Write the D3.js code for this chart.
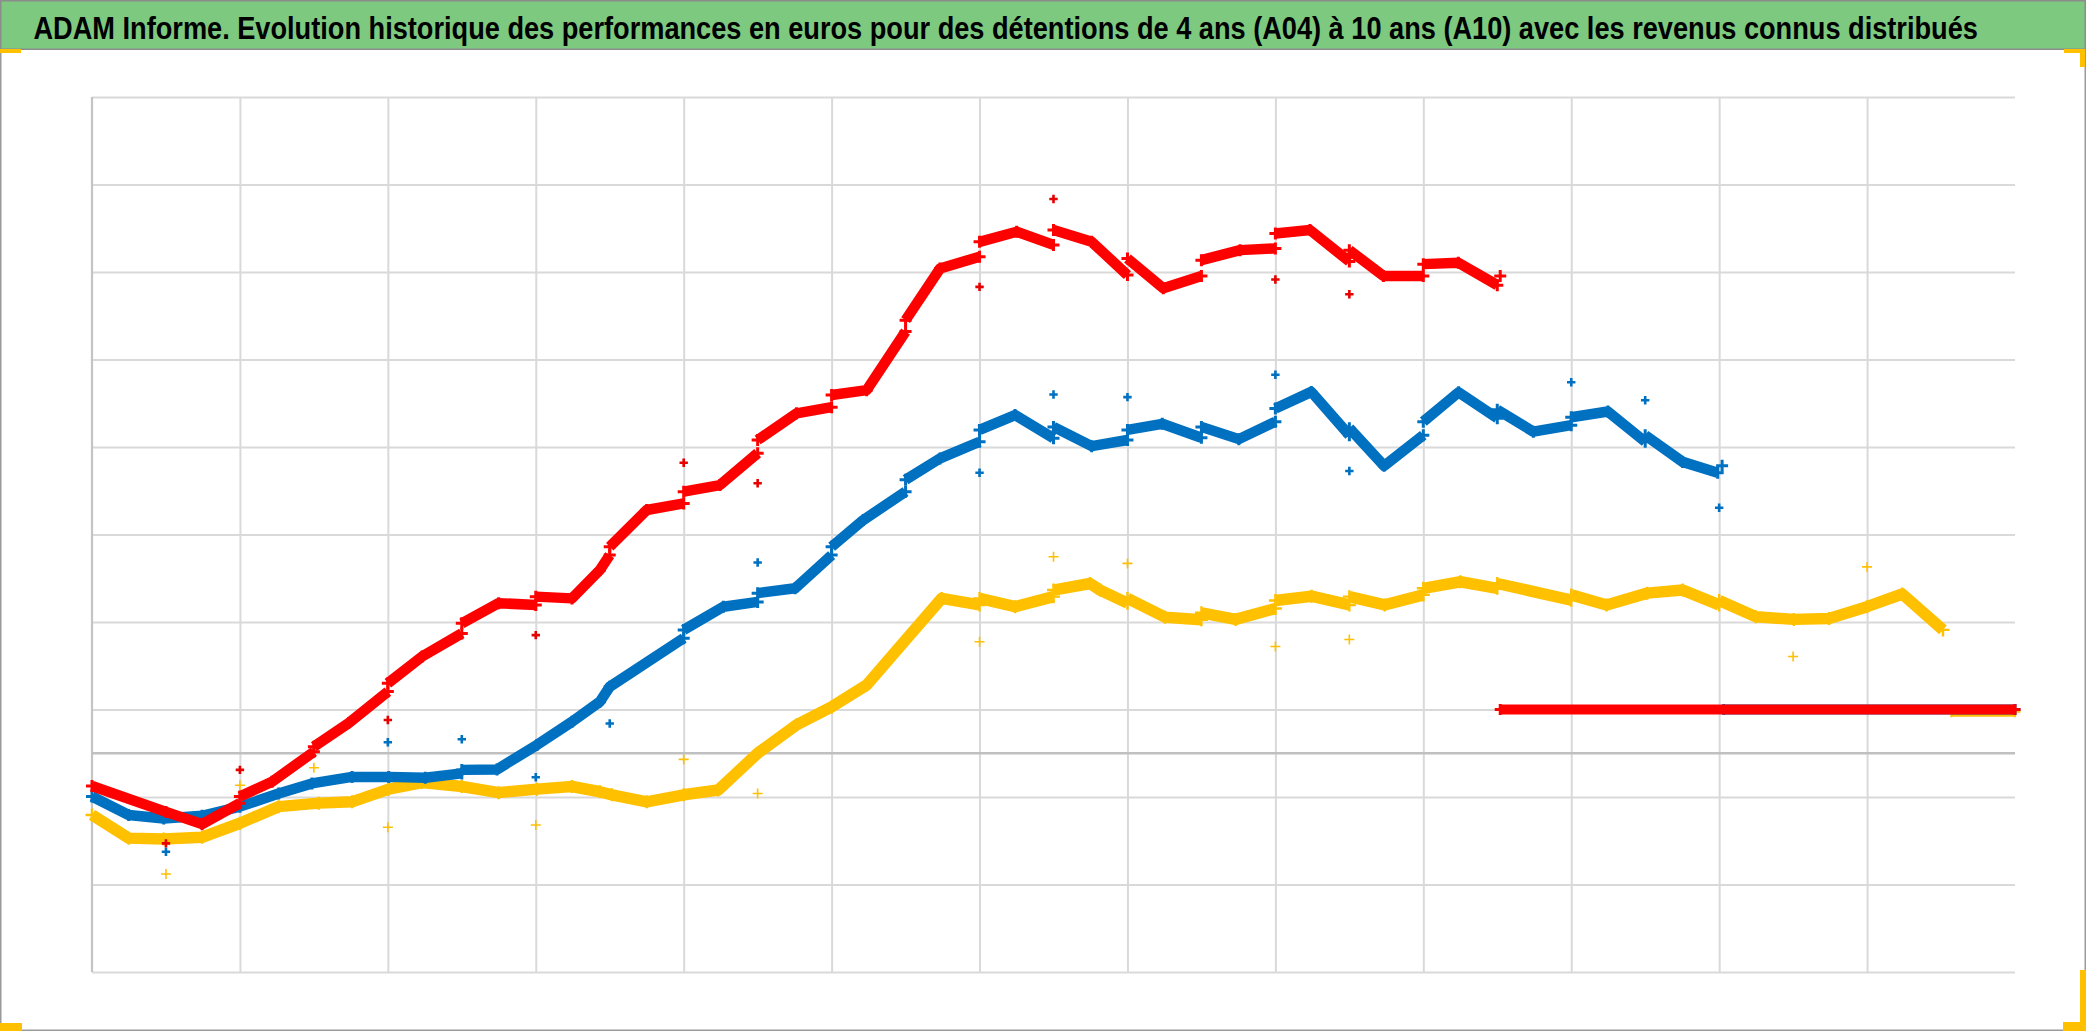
<!DOCTYPE html>
<html><head><meta charset="utf-8">
<script src="https://cdn.jsdelivr.net/npm/d3@7"></script>
<style>html,body{margin:0;padding:0;background:#fff;overflow:hidden}</style>
</head><body><svg id="c" width="2086" height="1031"></svg>
<script>
// ---------- data ----------
const titleText = "ADAM Informe. Evolution historique des performances en euros pour des détentions de 4 ans (A04) à 10 ans (A10) avec les revenus connus distribués";
const xDomain = [0, 13];            // années depuis le début de la période
const yDomain = [-5000, 15000];     // euros
const xGridYears = [0,1,2,3,4,5,6,7,8,9,10,11,12];
const yGridValues = [-5000,-3000,-1000,1000,3000,5000,7000,9000,11000,13000,15000];

// performance curves [year, euros]; null = break (jump at revenue date)
const courbeA10 = [
  [0,-750],[0.5,-1340],[0.744,-1620],[1.0,-1140], null,
  [1.0,-990],[1.217,-650],[1.5,35], null,
  [1.5,150],[1.735,690],[2.0,1410], null,
  [2.0,1600],[2.231,2210],[2.5,2740], null,
  [2.5,2970],[2.749,3430],[3.0,3390], null,
  [3.0,3580],[3.245,3540],[3.434,4190],[3.5,4530], null,
  [3.5,4720],[3.75,5560],[4.0,5710], null,
  [4.0,5980],[4.245,6130],[4.5,6860], null,
  [4.5,7160],[4.763,7770],[5.0,7910], null,
  [5.0,8190],[5.237,8300],[5.5,9640], null,
  [5.5,9900],[5.733,11080],[6.0,11350], null,
  [6.0,11690],[6.251,11920],[6.5,11620], null,
  [6.5,11960],[6.758,11690],[7.0,10930], null,
  [7.0,11310],[7.242,10630],[7.5,10910], null,
  [7.5,11270],[7.761,11500],[8.0,11540], null,
  [8.0,11880],[8.234,11960],[8.5,11240], null,
  [8.5,11500],[8.73,10910],[9.0,10910], null,
  [9.0,11180],[9.237,11210],[9.5,10700], null,
  [9.52,10910]
];
const courbeA07 = [
  [0,-990],[0.248,-1410],[0.485,-1490],[0.744,-1430],[1.0,-1220],[1.262,-920],[1.487,-690],[1.758,-540],[2.006,-540],[2.253,-560],[2.5,-460], null,
  [2.5,-380],[2.738,-370],[3.008,190],[3.245,720],[3.434,1180],[3.5,1520],[4.0,2630], null,
  [4.0,2820],[4.268,3350],[4.5,3460], null,
  [4.5,3660],[4.753,3770],[5.0,4530], null,
  [5.0,4720],[5.214,5330],[5.5,5980], null,
  [5.5,6250],[5.733,6740],[6.0,7120], null,
  [6.0,7390],[6.24,7730],[6.5,7200], null,
  [6.5,7460],[6.758,7020],[7.0,7160], null,
  [7.0,7390],[7.235,7530],[7.5,7210], null,
  [7.5,7460],[7.753,7180],[8.0,7580], null,
  [8.0,7880],[8.243,8260],[8.5,7270], null,
  [8.5,7430],[8.735,6570],[9.0,7270], null,
  [9.0,7580],[9.239,8250],[9.5,7660], null,
  [9.5,7850],[9.744,7350],[10.0,7500], null,
  [10.0,7680],[10.248,7810],[10.5,7120], null,
  [10.5,7270],[10.753,6660],[10.99,6410], null,
  [11.02,6570]
];
const courbeA04 = [
  [0,-1410],[0.248,-1940],[0.485,-1960],[0.744,-1920],[1.0,-1600],[1.262,-1220],[1.533,-1140],[1.758,-1110],[2.006,-820],[2.231,-670],[2.5,-760],[2.749,-900],[3.008,-820],[3.245,-760],[3.434,-880],[3.515,-950],[3.75,-1110],[4.0,-950],[4.234,-840],[4.5,0],[4.763,650],[5.0,1060],[5.237,1560],[5.5,2590],[5.744,3540],[6.0,3390], null,
  [6.0,3540],[6.24,3350],[6.5,3580], null,
  [6.5,3730],[6.747,3880],[6.815,3730],[7.0,3430], null,
  [7.0,3540],[7.254,3110],[7.5,3050], null,
  [7.5,3210],[7.731,3060],[8.0,3310], null,
  [8.0,3490],[8.244,3590],[8.5,3390], null,
  [8.5,3580],[8.739,3390],[9.0,3620], null,
  [9.0,3770],[9.251,3920],[9.5,3770], null,
  [9.5,3880],[10.0,3500], null,
  [10.0,3620],[10.239,3390],[10.514,3660],[10.754,3730],[11.0,3390], null,
  [11.0,3490],[11.248,3120],[11.505,3060],[11.743,3080],[12.0,3350],[12.238,3640],[12.513,2820]
];
// constant tails (no performance known yet)
const plateauA10 = [[9.52,1000],[13,1000]];
const plateauA07 = [[11.03,1000],[13,1000]];
const plateauA04 = [[12.57,950],[13,950]];

// revenus distribués (isolated points)
const revenusA10 = [[0.5,-2060],[1,-380],[2,760],[3,2700],[4,6640],[4.5,6170],[6,10660],[6.5,12670],[8,10830],[8.5,10490]];
const revenusA07 = [[0.5,-2250],[2,250],[2.5,320],[3,-550],[3.5,680],[4.5,4360],[6,6410],[6.5,8200],[7,8140],[8,8650],[8.5,6450],[10,8480],[10.5,8070],[11,5610]];
const revenusA04 = [[0.5,-2760],[1,-730],[1.5,-330],[2,-1690],[3,-1640],[4,-140],[4.5,-920],[6,2550],[6.5,4490],[7,4340],[8,2440],[8.5,2600],[11.5,2210],[12,4260]];

// ---------- drawing ----------
const W = 2086, H = 1031;
const M = {left: 92, right: 2015, top: 97, bottom: 972};
const svg = d3.select("#c");
svg.append("rect").attr("width", W).attr("height", H).attr("fill", "#fff");

const x = d3.scaleLinear().domain(xDomain).range([M.left, M.right]);
const y = d3.scaleLinear().domain(yDomain).range([M.bottom, M.top]);

// gridlines through axes
const gxAxis = d3.axisBottom(x).tickValues(xGridYears.slice(1)).tickSize(-(M.bottom - M.top)).tickFormat("");
const gx = svg.append("g").attr("transform", `translate(0,${M.bottom})`).call(gxAxis);
gx.select(".domain").remove();
gx.selectAll("line").attr("stroke", "#d9d9d9").attr("stroke-width", 2);

const gyAxis = d3.axisLeft(y).tickValues(yGridValues).tickSize(-(M.right - M.left)).tickFormat("");
const gy = svg.append("g").attr("transform", `translate(${M.left},0)`).call(gyAxis);
gy.select(".domain").remove();
gy.selectAll("line").attr("stroke", "#d9d9d9").attr("stroke-width", 2);

// vertical axis line at first year and horizontal axis at zero
svg.append("line").attr("x1", x(xGridYears[0])).attr("x2", x(xGridYears[0]))
  .attr("y1", M.top).attr("y2", M.bottom).attr("stroke", "#c4c4c4").attr("stroke-width", 2.2);
svg.append("line").attr("x1", M.left).attr("x2", M.right)
  .attr("y1", y(0)).attr("y2", y(0)).attr("stroke", "#c0c0c0").attr("stroke-width", 2.4);

const plus = s => `M${-s},0H${s}M0,${-s}V${s}`;
const line = d3.line().defined(d => d !== null).x(d => x(d[0])).y(d => y(d[1]));

function drawCurve(data, color, width, ms, msw) {
  svg.append("path").datum(data).attr("d", line)
    .attr("fill", "none").attr("stroke", color).attr("stroke-width", width)
    .attr("stroke-linejoin", "round").attr("stroke-linecap", "butt");
  svg.append("g").selectAll("path").data(data.filter(d => d !== null)).join("path")
    .attr("transform", d => `translate(${x(d[0])},${y(d[1])})`)
    .attr("d", plus(ms)).attr("stroke", color).attr("stroke-width", msw).attr("fill", "none");
}
function drawPoints(data, color, ms, msw) {
  svg.append("g").selectAll("path").data(data).join("path")
    .attr("transform", d => `translate(${x(d[0])},${y(d[1])})`)
    .attr("d", plus(ms)).attr("stroke", color).attr("stroke-width", msw).attr("fill", "none");
}

const cA04 = "#FFC000", cA07 = "#0070C0", cA10 = "#FF0000";
drawCurve(courbeA04, cA04, 11.5, 6.5, 2.4);
drawCurve(plateauA04, cA04, 10, 5.5, 2.2);
drawPoints(revenusA04, cA04, 5, 1.6);
drawCurve(courbeA07, cA07, 10.5, 6, 3);
drawCurve(plateauA07, cA07, 10, 5.5, 3);
drawPoints(revenusA07, cA07, 4.2, 2.6);
drawCurve(courbeA10, cA10, 10.5, 6, 3);
drawCurve(plateauA10, cA10, 10, 5.5, 3);
drawPoints(revenusA10, "#e60000", 4.2, 2.6);

// title bar
svg.append("rect").attr("x", 0.75).attr("y", 0.75).attr("width", W - 1.5).attr("height", 48.5)
  .attr("fill", "#7dc97f").attr("stroke", "#8c8c8c").attr("stroke-width", 1.5);
const title = svg.append("text").attr("x", 0).attr("y", 0)
  .attr("font-family", "'Liberation Sans', Arial, sans-serif").attr("font-weight", "bold")
  .attr("font-size", 31).attr("fill", "#000")
  .text(titleText);
const natural = title.node().getComputedTextLength();
const sx = 1945 / natural;
title.attr("transform", `translate(33.5,39) scale(${sx},1)`);

// outer border
svg.append("path").attr("d", `M${W-0.75},49V${H-0.75}H0.75V49`)
  .attr("fill", "none").attr("stroke", "#9a9a9a").attr("stroke-width", 1.5);

// corner handles
const handle = "#FFC000";
[[0,49,21,4],[2064,49,21,4],[2080,49,5,18],[0,1023,22,8],[2063,1022,23,9],[2080,970,6,61]]
  .forEach(r => svg.append("rect").attr("x", r[0]).attr("y", r[1]).attr("width", r[2]).attr("height", r[3]).attr("fill", handle));
</script></body></html>
